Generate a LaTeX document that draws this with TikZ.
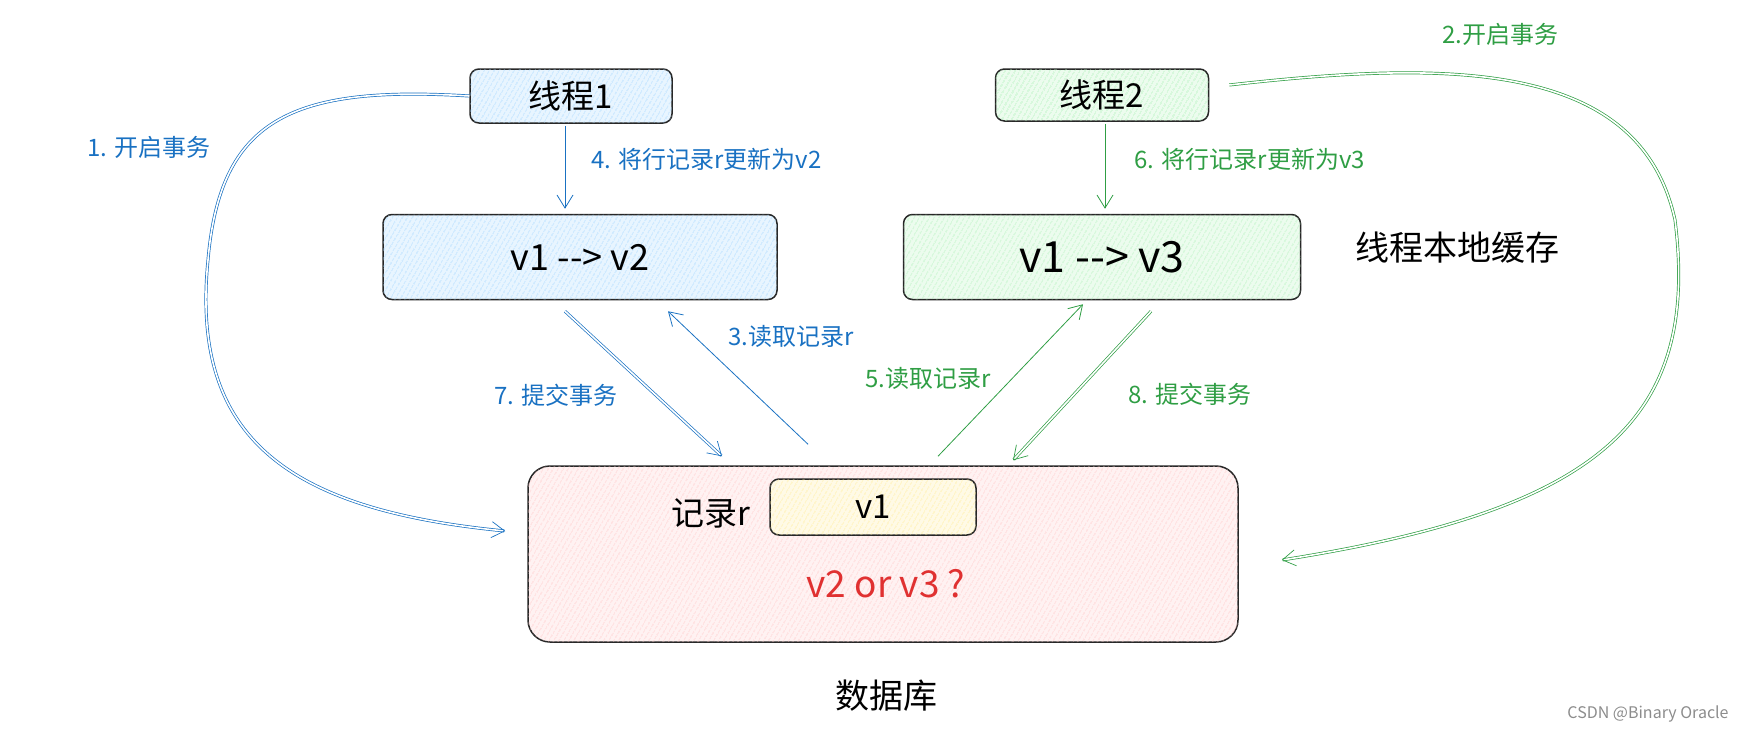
\documentclass[tikz,border=0pt]{standalone}
\usepackage{fontspec}
\setmainfont{Noto Sans CJK SC}
\usepackage{tikz}
\usetikzlibrary{arrows.meta,patterns.meta,calc}
\definecolor{xblue}{HTML}{1971C2}
\definecolor{xgreen}{HTML}{2F9E44}
\definecolor{xred}{HTML}{E03131}
\definecolor{hblue}{HTML}{A5D8FF}
\definecolor{hgreen}{HTML}{B2F2BB}
\definecolor{hred}{HTML}{FFC9C9}
\definecolor{hyellow}{HTML}{FFEC99}

\begin{document}
\begin{tikzpicture}[x=1pt, y=-1pt,
		box/.style={draw=black!85, line width=1.5pt, rounded corners=9pt, inner sep=0pt},
		hatch/.style={fill=#1!25, postaction={pattern={Lines[angle=60, distance=4pt, line width=0.9pt]}, pattern color=#1}},
		tip/.style={-{Straight Barb[length=13pt, width=16pt]}},
		twin/.style={double=white, double distance=1.6pt, line width=0.7pt},
		lbl/.style={font=\fontsize{24}{28}\selectfont},
		big/.style={font=\fontsize{33}{37}\selectfont}]
				\useasboundingbox (0,0) rectangle (1755,736);
				% thread boxes
				\node[box, hatch=hblue, minimum width=202pt, minimum height=54pt, big] (t1) at (571,96) {线程1};
				\node[box, hatch=hgreen, minimum width=213pt, minimum height=52pt, big] (t2) at (1102,95) {线程2};
				\node[box, hatch=hblue, minimum width=394pt, minimum height=85pt, font=\fontsize{36}{40}\selectfont] (c1) at (580,257) {v1 {-}{-}> v2};
				\node[box, hatch=hgreen, minimum width=397pt, minimum height=85pt, font=\fontsize{43}{47}\selectfont] (c2) at (1102,257) {v1 {-}{-}> v3};
				\node[font=\fontsize{34}{38}\selectfont] (cache) at (1457,248) {线程本地缓存};
				% database
				\node[box, hatch=hred, rounded corners=22pt, minimum width=710pt, minimum height=176pt] (db) at (883,554) {};
				\node[box, hatch=hyellow, minimum width=206pt, minimum height=56pt, big] (rec) at (873,507) {v1};
				\node[big] (recname) at (711,513) {记录r};
				\node[font=\fontsize{37}{41}\selectfont, text=xred] (ask) at (886,584) {v2 or v3 ?};
				\node[font=\fontsize{34}{38}\selectfont] (dbname) at (886,696) {数据库};
				\node[font=\fontsize{16}{18}\selectfont, text=black!45] (mark) at (1648,714) {CSDN @Binary Oracle};
				% thread 1
				\draw[xblue, line width=0.8pt, tip] ([xshift=-6pt, yshift=-2pt]t1.south) -- ([xshift=-15pt, yshift=5pt]c1.north);
				\draw[xblue, twin, tip] (t1.west) .. controls (290,85) and (220,120) .. (208,260) .. controls (190,440) and (290,510) .. ($(db.west)+(-22,-23)$);
				\draw[xblue, twin, tip] ($(c1.south)+(-15,11)$) -- ($(db.north)+(-161,-9)$);
				\draw[xblue, line width=0.8pt, tip] ($(db.north)+(-75,-21)$) -- ($(c1.south)+(88,11)$);
				% thread 2
				\draw[xgreen, line width=0.8pt, tip] ([xshift=3pt, yshift=-2pt]t2.south) -- ([xshift=3pt, yshift=5pt]c2.north);
				\draw[xgreen, twin, tip] ([xshift=20pt, yshift=10pt]t2.east) .. controls (1450,60) and (1640,60) .. (1675,220) .. controls (1700,420) and (1600,510) .. ($(db.east)+(43,6)$);
				\draw[xgreen, line width=0.8pt, tip] ($(db.north)+(55,-9)$) -- ($(c2.south)+(-19,4)$);
				\draw[xgreen, twin, tip] ($(c2.south)+(49,11)$) -- ($(db.north)+(130,-5)$);
				% labels
				\node[lbl, text=xblue] (l1) at (149,147) {1. 开启事务};
				\node[lbl, text=xblue, anchor=west] (l4) at (588,159) {4. 将行记录r更新为v2};
				\node[lbl, text=xblue, anchor=west] (l3) at (725,336) {3.读取记录r};
				\node[lbl, text=xblue] (l7) at (556,395) {7. 提交事务};
				\node[lbl, text=xgreen] (l2) at (1500,34) {2.开启事务};
				\node[lbl, text=xgreen, anchor=west] (l6) at (1131,159) {6. 将行记录r更新为v3};
				\node[lbl, text=xgreen] (l5) at (928,378) {5.读取记录r};
				\node[lbl, text=xgreen] (l8) at (1190,394) {8. 提交事务};
\end{tikzpicture}
\end{document}
